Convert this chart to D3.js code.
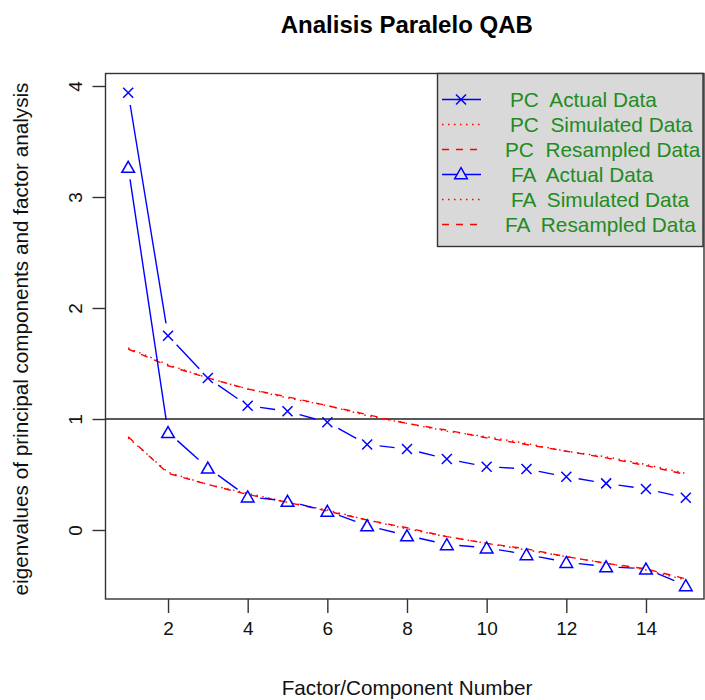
<!DOCTYPE html>
<html>
<head>
<meta charset="utf-8">
<script src="https://cdn.jsdelivr.net/npm/d3@7"></script>
<style>
  body { margin: 0; background: #fff; }
  text { font-family: "Liberation Sans", Arial, sans-serif; white-space: pre; }
</style>
</head>
<body>
<div id="chart"></div>
<script>
// Data
//= ================================
var factors = [1, 2, 3, 4, 5, 6, 7, 8, 9, 10, 11, 12, 13, 14, 15];
var pcActual = [3.94, 1.75, 1.37, 1.12, 1.07, 0.97, 0.77, 0.73, 0.64, 0.57, 0.55, 0.48, 0.42, 0.37, 0.29];
var pcSimulated = [1.64, 1.49, 1.37, 1.27, 1.19, 1.12, 1.03, 0.96, 0.89, 0.84, 0.78, 0.71, 0.66, 0.59, 0.51];
var pcResampled = [1.63, 1.48, 1.37, 1.27, 1.20, 1.12, 1.04, 0.96, 0.90, 0.83, 0.77, 0.71, 0.65, 0.58, 0.50];
var faActual = [3.27, 0.88, 0.56, 0.30, 0.26, 0.17, 0.04, -0.05, -0.13, -0.16, -0.22, -0.29, -0.33, -0.35, -0.50];
var faSimulated = [0.83, 0.52, 0.41, 0.33, 0.25, 0.18, 0.09, 0.01, -0.06, -0.12, -0.18, -0.24, -0.30, -0.36, -0.45];
var faResampled = [0.84, 0.51, 0.41, 0.32, 0.25, 0.17, 0.09, 0.02, -0.06, -0.12, -0.17, -0.24, -0.30, -0.35, -0.44];
var xTicks = [2, 4, 6, 8, 10, 12, 14];
var yTicks = [0, 1, 2, 3, 4];
var legendLabels = ["PC  Actual Data", "PC  Simulated Data", "PC  Resampled Data",
                    "FA  Actual Data", "FA  Simulated Data", "FA  Resampled Data"];

// Step 1: chart size
//= ================================
var svgWidth = 705;
var svgHeight = 700;
var plot = { left: 105.5, right: 704, top: 73.5, bottom: 599 };

var svg = d3.select("#chart")
    .append("svg")
    .attr("width", svgWidth)
    .attr("height", svgHeight);

svg.append("rect").attr("width", svgWidth).attr("height", svgHeight).attr("fill", "#fff");

// scales (R style 4% padding)
var xScale = d3.scaleLinear().domain([1, 15]).range([128.2, 685.8]);
var yScale = d3.scaleLinear().domain([0, 4]).range([530, 86]);

var BLUE = "#0000ff";
var RED = "#ff0000";

// Step 2: axes
//= ================================
var xAxis = svg.append("g")
    .attr("transform", `translate(0, ${plot.bottom})`)
    .call(d3.axisBottom(xScale).tickValues(xTicks).tickSize(14).tickPadding(9).tickFormat(d3.format("d")));
xAxis.select(".domain").remove();
xAxis.selectAll("line").attr("stroke", "#333").attr("stroke-width", 1.4);
xAxis.selectAll("text").attr("font-size", 19).attr("fill", "#111")
    .attr("font-family", "Liberation Sans, Arial, sans-serif");

var yAxis = svg.append("g")
    .attr("transform", `translate(${plot.left}, 0)`)
    .call(d3.axisLeft(yScale).tickValues(yTicks).tickSize(13).tickFormat(d3.format("d")));
yAxis.select(".domain").remove();
yAxis.selectAll("line").attr("stroke", "#333").attr("stroke-width", 1.4);
yAxis.selectAll("text")
    .attr("font-size", 19).attr("fill", "#111")
    .attr("font-family", "Liberation Sans, Arial, sans-serif")
    .attr("text-anchor", "middle")
    .attr("x", 0).attr("dy", 0)
    .attr("transform", "translate(-31, 0) rotate(-90) translate(0, 7)");

// plot box
svg.append("rect")
    .attr("x", plot.left).attr("y", plot.top)
    .attr("width", plot.right - plot.left).attr("height", plot.bottom - plot.top)
    .attr("fill", "none").attr("stroke", "#333").attr("stroke-width", 1.4);

// reference line at eigenvalue 1
svg.append("line")
    .attr("x1", plot.left).attr("x2", plot.right)
    .attr("y1", yScale(1)).attr("y2", yScale(1))
    .attr("stroke", "#222").attr("stroke-width", 1.3);

// Step 3: series
//= ================================
var line = d3.line()
    .x((d, i) => xScale(factors[i]))
    .y(d => yScale(d));

function drawDashed(values, dash) {
    svg.append("path")
        .datum(values)
        .attr("d", line)
        .attr("fill", "none")
        .attr("stroke", RED)
        .attr("stroke-width", 1.4)
        .attr("stroke-dasharray", dash);
}

drawDashed(pcSimulated, "1.5,4.5");
drawDashed(pcResampled, "7,7");
drawDashed(faSimulated, "1.5,4.5");
drawDashed(faResampled, "7,7");

// type = "b": segments with gaps around the points
function drawGapped(values, gap) {
    var segs = [];
    for (var i = 0; i < values.length - 1; i++) {
        var x1 = xScale(factors[i]), y1 = yScale(values[i]);
        var x2 = xScale(factors[i + 1]), y2 = yScale(values[i + 1]);
        var len = Math.hypot(x2 - x1, y2 - y1);
        if (len <= 2 * gap) continue;
        var ux = (x2 - x1) / len, uy = (y2 - y1) / len;
        segs.push([x1 + ux * gap, y1 + uy * gap, x2 - ux * gap, y2 - uy * gap]);
    }
    svg.append("g").selectAll("line")
        .data(segs)
        .enter()
        .append("line")
        .attr("x1", d => d[0]).attr("y1", d => d[1])
        .attr("x2", d => d[2]).attr("y2", d => d[3])
        .attr("stroke", BLUE)
        .attr("stroke-width", 1.4);
}

function crossPath(x, y, r) {
    return `M${x - r},${y - r}L${x + r},${y + r}M${x - r},${y + r}L${x + r},${y - r}`;
}
function trianglePath(x, y, r) {
    return `M${x},${y - r * 1.05}L${x + r * 1.15},${y + r * 0.95}L${x - r * 1.15},${y + r * 0.95}Z`;
}

drawGapped(pcActual, 12.5);
drawGapped(faActual, 12.5);

svg.append("g").selectAll("path")
    .data(pcActual)
    .enter()
    .append("path")
    .attr("d", (d, i) => crossPath(xScale(factors[i]), yScale(d), 5))
    .attr("fill", "none").attr("stroke", BLUE).attr("stroke-width", 1.5);

svg.append("g").selectAll("path")
    .data(faActual)
    .enter()
    .append("path")
    .attr("d", (d, i) => trianglePath(xScale(factors[i]), yScale(d), 5.5))
    .attr("fill", "none").attr("stroke", BLUE).attr("stroke-width", 1.5);

// Step 4: legend
//= ================================
var legend = svg.append("g");
legend.append("rect")
    .attr("x", 437.5).attr("y", 73.5)
    .attr("width", 265.5).attr("height", 173)
    .attr("fill", "#d9d9d9").attr("stroke", "#333").attr("stroke-width", 1.4);

var legendStyle = [
    { dash: null, mark: "x" },
    { dash: "1.5,4.5", mark: null },
    { dash: "7,7", mark: null },
    { dash: null, mark: "tri" },
    { dash: "1.5,4.5", mark: null },
    { dash: "7,7", mark: null }
];
var textX = [510, 510, 505, 511, 511, 505];

legendLabels.forEach(function(label, i) {
    var y = 99.5 + i * 25;
    var st = legendStyle[i];
    legend.append("line")
        .attr("x1", 442).attr("x2", 481)
        .attr("y1", y).attr("y2", y)
        .attr("stroke", st.mark ? BLUE : RED)
        .attr("stroke-width", 1.4)
        .attr("stroke-dasharray", st.dash);
    if (st.mark === "x") {
        legend.append("path").attr("d", crossPath(461, y, 5))
            .attr("fill", "none").attr("stroke", BLUE).attr("stroke-width", 1.5);
    }
    if (st.mark === "tri") {
        legend.append("path").attr("d", trianglePath(461, y - 1, 5.5))
            .attr("fill", "#d9d9d9").attr("stroke", BLUE).attr("stroke-width", 1.5);
    }
    legend.append("text")
        .attr("x", textX[i]).attr("y", y + 7)
        .attr("font-size", 20.8)
        .attr("fill", "#228b22")
        .attr("xml:space", "preserve")
        .text(label);
});

// Step 5: titles
//= ================================
svg.append("text")
    .attr("x", (plot.left + plot.right) / 2 + 2).attr("y", 33)
    .attr("text-anchor", "middle")
    .attr("font-size", 24).attr("font-weight", "bold")
    .attr("fill", "#000")
    .text("Analisis Paralelo QAB");

svg.append("text")
    .attr("x", 407).attr("y", 695)
    .attr("text-anchor", "middle")
    .attr("font-size", 20.7).attr("fill", "#111")
    .text("Factor/Component Number");

svg.append("text")
    .attr("transform", `translate(28, 339) rotate(-90)`)
    .attr("text-anchor", "middle")
    .attr("font-size", 20.7).attr("fill", "#111")
    .text("eigenvalues of principal components and factor analysis");
</script>
</body>
</html>
